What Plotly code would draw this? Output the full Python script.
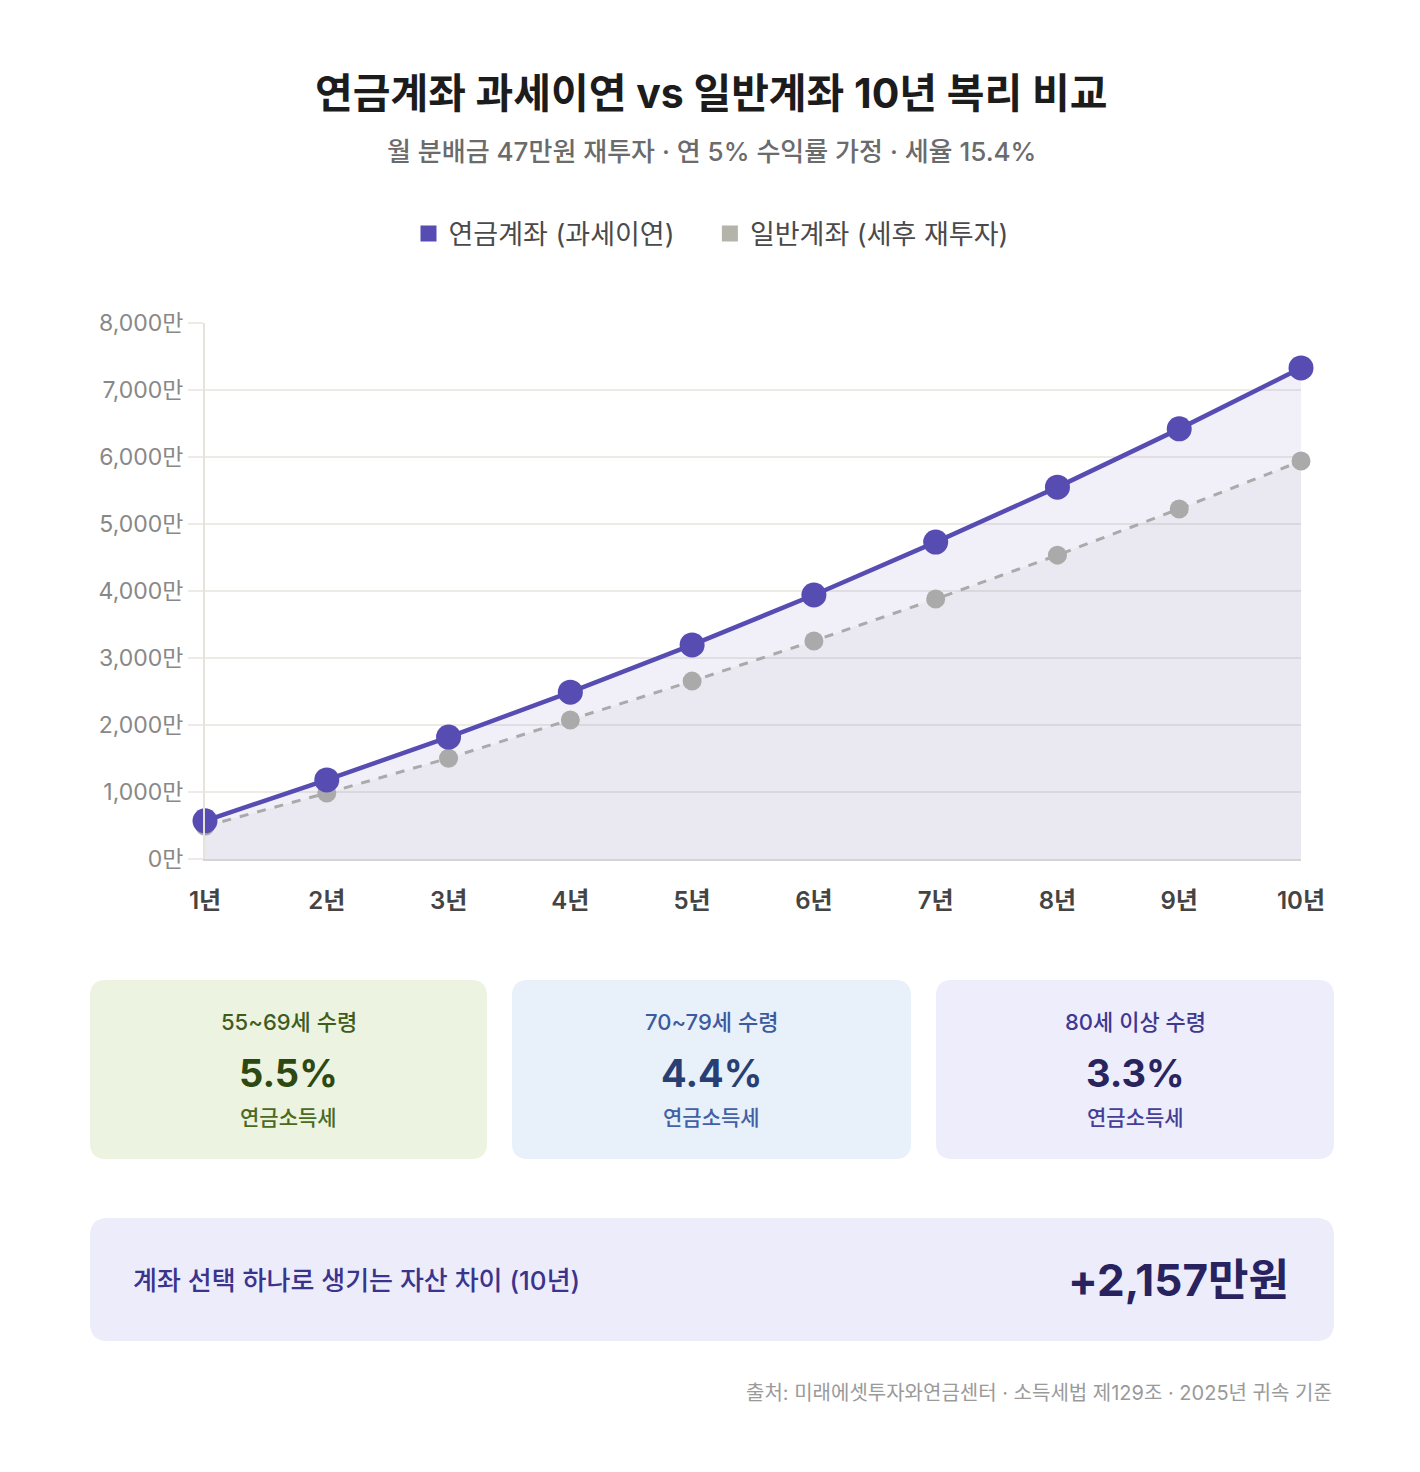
import plotly.graph_objects as go

years = ["1년", "2년", "3년", "4년", "5년", "6년", "7년", "8년", "9년", "10년"]
pension = [570, 1180, 1820, 2490, 3195, 3940, 4730, 5550, 6420, 7330]
general = [490, 985, 1505, 2075, 2655, 3255, 3880, 4535, 5225, 5940]
y_ticks = [0, 1000, 2000, 3000, 4000, 5000, 6000, 7000, 8000]
y_tick_labels = ["0만", "1,000만", "2,000만", "3,000만", "4,000만", "5,000만", "6,000만", "7,000만", "8,000만"]

card_heads = ["55~69세 수령", "70~79세 수령", "80세 이상 수령"]
card_values = ["5.5%", "4.4%", "3.3%"]
card_subs = ["연금소득세", "연금소득세", "연금소득세"]

FONT = "Inter, Noto Sans CJK KR"
PURPLE = "#574cb2"
GRAY = "#aaaaaa"

W_FIG, H_FIG = 1420, 1472
L, R, T, B = 205, 1301, 323, 859
PW, PH = R - L, B - T


def px(x):
    return (x - L) / PW


def py(y):
    return (B - y) / PH


def rrect(x0, y0, x1, y1, r):
    pts = [
        f"M {px(x0 + r)} {py(y0)}",
        f"L {px(x1 - r)} {py(y0)}",
        f"Q {px(x1)} {py(y0)} {px(x1)} {py(y0 + r)}",
        f"L {px(x1)} {py(y1 - r)}",
        f"Q {px(x1)} {py(y1)} {px(x1 - r)} {py(y1)}",
        f"L {px(x0 + r)} {py(y1)}",
        f"Q {px(x0)} {py(y1)} {px(x0)} {py(y1 - r)}",
        f"L {px(x0)} {py(y0 + r)}",
        f"Q {px(x0)} {py(y0)} {px(x0 + r)} {py(y0)}",
        "Z",
    ]
    return " ".join(pts)


fig = go.Figure()

# fills
fig.add_trace(go.Scatter(x=years, y=pension, mode="none", fill="tozeroy",
                         fillcolor="rgba(90,76,180,0.085)", showlegend=False, hoverinfo="skip"))
fig.add_trace(go.Scatter(x=years, y=general, mode="none", fill="tozeroy",
                         fillcolor="rgba(150,150,160,0.08)", showlegend=False, hoverinfo="skip"))
# lines
fig.add_trace(go.Scatter(x=years, y=general, mode="lines+markers",
                         line=dict(color=GRAY, width=3, dash="dash"),
                         marker=dict(color=GRAY, size=19),
                         showlegend=False, cliponaxis=False))
fig.add_trace(go.Scatter(x=years, y=pension, mode="lines+markers",
                         line=dict(color=PURPLE, width=4.5),
                         marker=dict(color=PURPLE, size=25),
                         showlegend=False, cliponaxis=False))
# legend dummies
fig.add_trace(go.Scatter(x=[None], y=[None], mode="markers", name="연금계좌 (과세이연)\u00a0\u00a0\u00a0\u00a0",
                         marker=dict(symbol="square", color=PURPLE, size=20)))
fig.add_trace(go.Scatter(x=[None], y=[None], mode="markers", name="일반계좌 (세후 재투자)",
                         marker=dict(symbol="square", color="#b4b4ab", size=20)))

shapes = []
card_x = [(90, 487), (512, 911), (936, 1334)]
card_bg = ["#ecf3e0", "#e8f0fa", "#eeedfb"]
card_head_col = ["#3f5c1c", "#3b5aa0", "#3f3891"]
card_val_col = ["#2e4812", "#273f72", "#27245e"]
card_sub_col = ["#4a6a22", "#4160a6", "#453e98"]
for (x0, x1), bg in zip(card_x, card_bg):
    shapes.append(dict(type="path", path=rrect(x0, 980, x1, 1159, 16), xref="paper", yref="paper",
                       fillcolor=bg, line=dict(width=0), layer="below"))
shapes.append(dict(type="path", path=rrect(90, 1218, 1334, 1341, 18), xref="paper", yref="paper",
                   fillcolor="#edecfb", line=dict(width=0), layer="below"))

ann = []


def text(x, y, s, size, color, weight=400, xanchor="center"):
    ann.append(dict(x=px(x), y=py(y), xref="paper", yref="paper", text=s, showarrow=False,
                    xanchor=xanchor, yanchor="middle",
                    font=dict(family=FONT, size=size, color=color, weight=weight)))


text(711, 93, "연금계좌 과세이연 vs 일반계좌 10년 복리 비교", 41, "#1c1c1c", 700)
text(711, 151, "월 분배금 47만원 재투자 · 연 5% 수익률 가정 · 세율 15.4%", 26, "#6b6b6b", 500)

for i, (x0, x1) in enumerate(card_x):
    cx = (x0 + x1) / 2
    text(cx, 1022, card_heads[i], 22, card_head_col[i], 500)
    text(cx, 1073, card_values[i], 38, card_val_col[i], 700)
    text(cx, 1117, card_subs[i], 21, card_sub_col[i], 500)

text(131, 1280, "계좌 선택 하나로 생기는 자산 차이 (10년)", 26, "#3a348c", 500, "left")
text(1291, 1280, "+2,157만원", 44, "#28235e", 700, "right")
text(1334, 1393, "출처: 미래에셋투자와연금센터 · 소득세법 제129조 · 2025년 귀속 기준", 20, "#9a9a9a", 400, "right")

fig.update_layout(
    width=W_FIG, height=H_FIG,
    margin=dict(l=L, r=W_FIG - R, t=T, b=H_FIG - B, pad=0),
    paper_bgcolor="white", plot_bgcolor="white",
    font=dict(family=FONT),
    showlegend=True,
    legend=dict(orientation="h", x=px(711), xanchor="center", y=py(234), yanchor="middle",
                font=dict(family=FONT, size=27, color="#4a4a4a", weight=400),
                traceorder="normal", itemwidth=30),
    shapes=shapes,
    annotations=ann,
    xaxis=dict(type="category", range=[0, 9], showgrid=False, zeroline=False,
               showline=True, linecolor="#d4d4d4", linewidth=2,
               ticks="outside", ticklen=19, tickcolor="rgba(0,0,0,0)",
               tickfont=dict(family=FONT, size=24, color="#444444", weight=600)),
    yaxis=dict(range=[0, 8000], tickvals=y_ticks, ticktext=y_tick_labels,
               showgrid=True, gridcolor="#eeebe6", gridwidth=1.5, zeroline=False,
               showline=True, linecolor="#e6e3de", linewidth=2,
               ticks="outside", ticklen=15, tickcolor="#eeebe6", tickwidth=1.5,
               tickfont=dict(family=FONT, size=23, color="#888888")),
)

fig.write_html("out.html")
